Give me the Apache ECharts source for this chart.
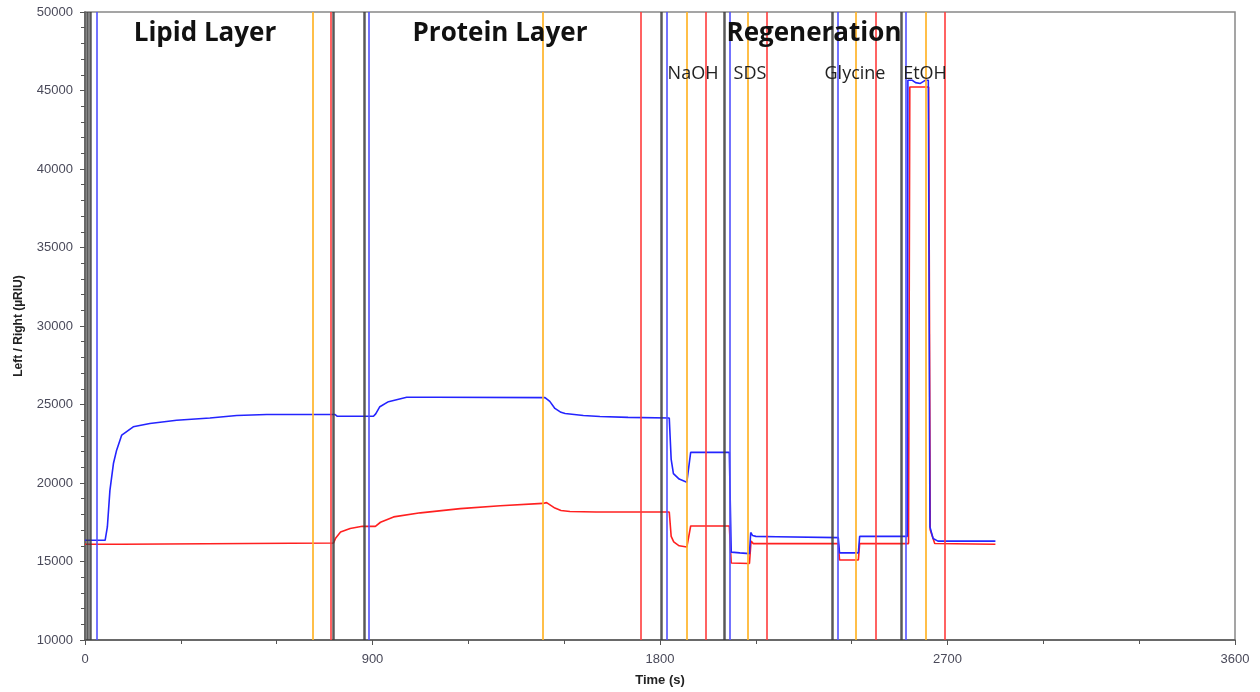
<!DOCTYPE html>
<html>
<head>
<meta charset="utf-8">
<script src="https://cdn.jsdelivr.net/npm/echarts@6/dist/echarts.min.js"></script>
<style>
html,body{margin:0;padding:0;background:#fff;}
#chart{width:1260px;height:692px;}
</style>
</head>
<body>
<div id="chart"></div>
<script>
// ---- data ----
const xTicks = [0, 900, 1800, 2700, 3600];
const yTicks = [10000, 15000, 20000, 25000, 30000, 35000, 40000, 45000, 50000];

// event marker lines (time in s) and their kind
const eventTimes = [7, 16, 37, 712, 770, 777, 873, 888, 1433, 1741, 1805, 1821, 1884, 1943, 2000, 2017, 2076, 2133, 2338, 2356, 2414, 2475, 2555, 2570, 2633, 2690];
const eventKinds = ['k', 'k', 'b', 'o', 'r', 'k', 'k', 'b', 'o', 'r', 'k', 'b', 'o', 'r', 'k', 'b', 'o', 'r', 'k', 'b', 'o', 'r', 'k', 'b', 'o', 'r'];

// Left channel (blue)
const blueTimes = [0, 63, 70, 78, 89, 99, 115, 151, 203, 287, 391, 475, 569, 783, 790, 903, 910, 923, 950, 1007, 1100, 1440, 1455, 1471, 1490, 1503, 1560, 1612, 1700, 1829,
  1835, 1842, 1860, 1884, 1890, 1896, 2017, 2023, 2050, 2080, 2084, 2090, 2100, 2165, 2170, 2358, 2362, 2421, 2425, 2574, 2576, 2590, 2600, 2615, 2630, 2640, 2645, 2655, 2670, 2850];
const blueValues = [16350, 16350, 17200, 19530, 21240, 22090, 23050, 23580, 23790, 24000, 24140, 24300, 24360, 24360, 24250, 24250, 24400, 24860, 25180, 25460, 25460, 25440, 25200, 24750, 24500, 24430, 24300, 24240, 24180, 24140,
  21500, 20600, 20250, 20050, 20150, 21950, 21950, 15600, 15550, 15500, 16850, 16650, 16600, 16580, 16520, 16520, 15550, 15550, 16600, 16600, 45650, 45650, 45500, 45450, 45650, 45650, 17200, 16460, 16300, 16300];

// Right channel (red)
const redTimes = [0, 115, 120, 778, 785, 800, 830, 868, 909, 925, 966, 1050, 1175, 1300, 1433, 1445, 1471, 1490, 1518, 1600, 1829,
  1835, 1843, 1860, 1884, 1890, 1896, 2017, 2023, 2080, 2085, 2092, 2358, 2362, 2421, 2425, 2578, 2582, 2641, 2646, 2660, 2850];
const redValues = [16100, 16100, 16180, 16180, 16500, 16880, 17100, 17240, 17240, 17500, 17840, 18100, 18370, 18550, 18700, 18750, 18400, 18250, 18180, 18150, 18150,
  16600, 16245, 16000, 15920, 16000, 17260, 17260, 14900, 14870, 16300, 16140, 16140, 15100, 15100, 16140, 16140, 45220, 45220, 17000, 16150, 16100];

// annotations
const sectionLabels = ['Lipid Layer', 'Protein Layer', 'Regeneration'];
const reagentLabels = ['NaOH', 'SDS', 'Glycine', 'EtOH'];

// ---- chart ----
const kindColor = {
  k: 'rgba(60,60,60,0.85)',
  b: 'rgba(80,80,255,0.8)',
  o: 'rgba(255,180,40,0.85)',
  r: 'rgba(255,60,60,0.8)'
};

const zip = (a, b) => a.map((t, i) => [t, b[i]]);

const chart = echarts.init(document.getElementById('chart'), null, {renderer: 'canvas'});

const sectionPos = [[205, 34], [500, 34], [814, 34]];
const reagentPos = [[693, 74], [750, 74], [855, 74], [925, 74]];

const graphics = [];
sectionLabels.forEach((s, i) => graphics.push({
  type: 'text', x: sectionPos[i][0], y: sectionPos[i][1], z: 100,
  style: {text: s, fill: '#111', font: 'bold 26px "Open Sans"', textAlign: 'center', textVerticalAlign: 'middle'}
}));
reagentLabels.forEach((s, i) => graphics.push({
  type: 'text', x: reagentPos[i][0], y: reagentPos[i][1], z: 100,
  style: {text: s, fill: '#222', font: '18px "Open Sans"', textAlign: 'center', textVerticalAlign: 'middle'}
}));

chart.setOption({
  animation: false,
  backgroundColor: '#fff',
  grid: {left: 85, right: 25, top: 12, bottom: 52, show: true, borderColor: '#888', borderWidth: 1.5},
  xAxis: {
    type: 'value', min: xTicks[0], max: xTicks[xTicks.length - 1], interval: 900,
    name: 'Time (s)', nameLocation: 'middle', nameGap: 34,
    nameTextStyle: {fontFamily: 'Liberation Sans', fontWeight: 'bold', fontSize: 13, color: '#222'},
    axisLine: {lineStyle: {color: '#555', width: 1.5}},
    axisTick: {show: true, length: 5, lineStyle: {color: '#555'}},
    minorTick: {show: true, splitNumber: 3, length: 4, lineStyle: {color: '#555'}},
    splitLine: {show: false},
    axisLabel: {fontFamily: 'Liberation Sans', fontSize: 13, color: '#4a4a5a', margin: 13, formatter: v => String(v)}
  },
  yAxis: {
    type: 'value', min: yTicks[0], max: yTicks[yTicks.length - 1], interval: 5000,
    name: 'Left / Right (µRIU)', nameLocation: 'middle', nameGap: 60,
    nameTextStyle: {fontFamily: 'Liberation Sans', fontWeight: 'bold', fontSize: 12, color: '#222'},
    axisLine: {show: true, lineStyle: {color: '#555', width: 1.5}},
    axisTick: {show: true, length: 5, lineStyle: {color: '#555'}},
    minorTick: {show: true, splitNumber: 5, length: 4, lineStyle: {color: '#555'}},
    splitLine: {show: false},
    axisLabel: {fontFamily: 'Liberation Sans', fontSize: 13, color: '#4a4a5a', margin: 12, formatter: v => String(v)}
  },
  graphic: graphics,
  series: [
    {
      type: 'line', data: [], z: 1, silent: true,
      markLine: {
        symbol: 'none', silent: true, animation: false,
        label: {show: false},
        data: eventTimes.map((t, i) => ({xAxis: t, lineStyle: {type: 'solid', color: kindColor[eventKinds[i]], width: eventKinds[i] === 'k' ? 2.5 : 2}}))
      }
    },
    {
      name: 'Right', type: 'line', data: zip(redTimes, redValues), z: 3,
      showSymbol: false, symbol: 'none', lineStyle: {color: '#ff2020', width: 1.6}, itemStyle: {color: '#ff2020'}
    },
    {
      name: 'Left', type: 'line', data: zip(blueTimes, blueValues), z: 4,
      showSymbol: false, symbol: 'none', lineStyle: {color: '#2424ff', width: 1.6}, itemStyle: {color: '#2424ff'}
    }
  ]
});
</script>
</body>
</html>
